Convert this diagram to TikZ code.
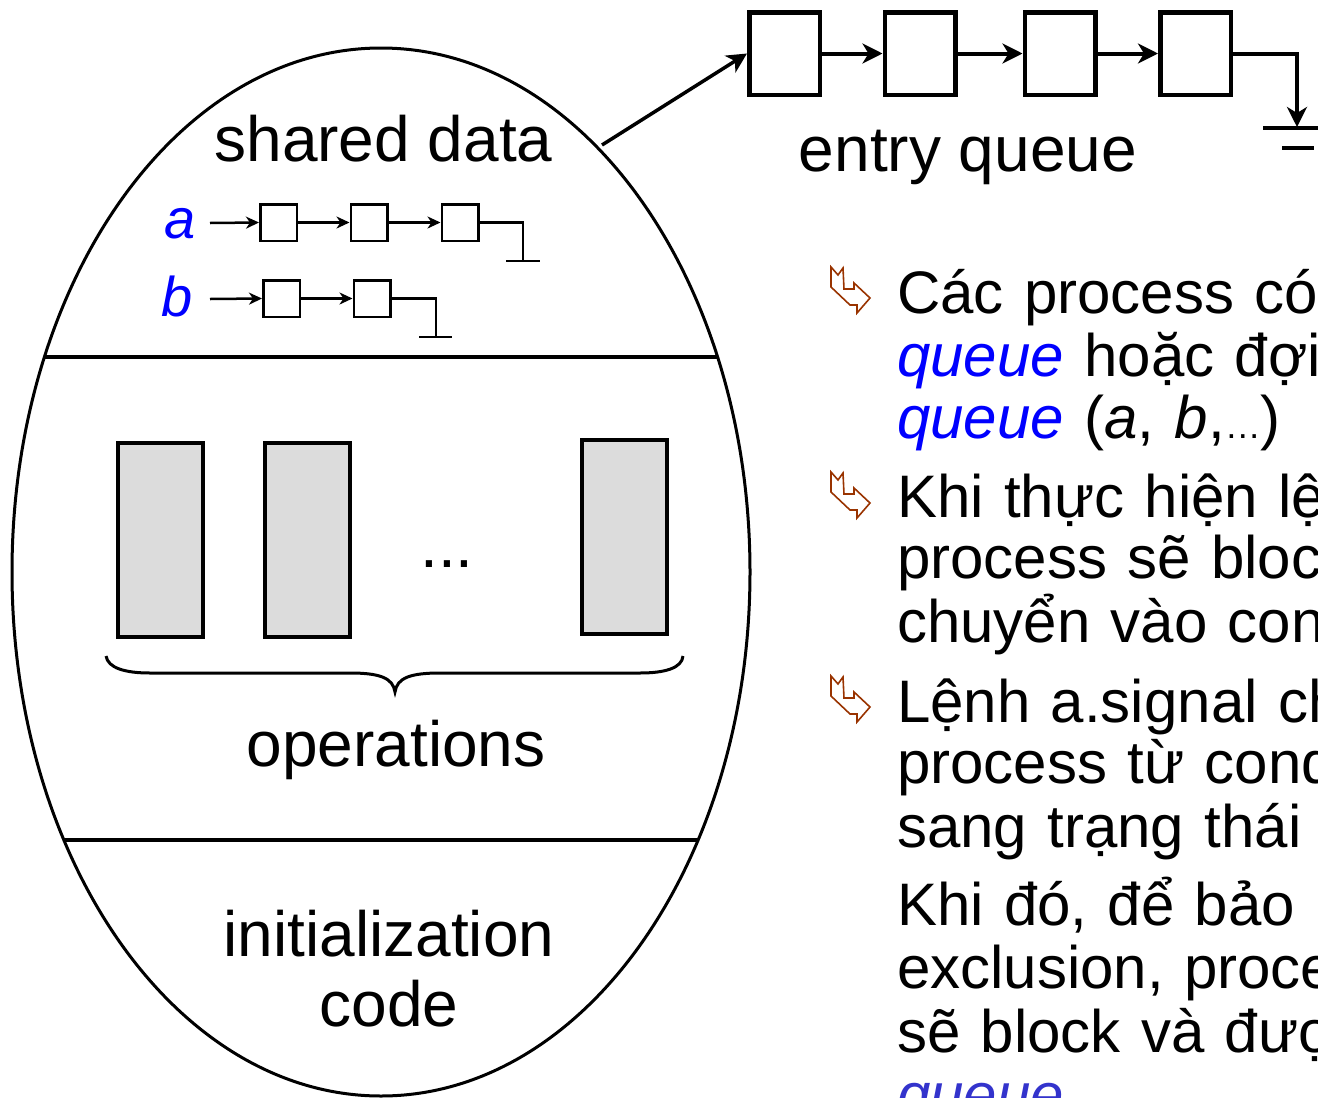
\documentclass[tikz,border=0pt]{standalone}
\usepackage{fontspec}
\setmainfont{Liberation Sans}
\newfontfamily\bodyfont{Liberation Sans}[WordSpace=1.22]
\usetikzlibrary{arrows.meta}
\definecolor{bulletbrown}{HTML}{993300}
\definecolor{fadeblue}{HTML}{3333CC}
\definecolor{opgray}{HTML}{DCDCDC}
\begin{document}
\begin{tikzpicture}[x=1pt,y=-1pt,
  bigtext/.style={font=\fontsize{64}{70}\selectfont, inner sep=0, anchor=base},
  bodytext/.style={font=\bodyfont\fontsize{60}{63}\selectfont, inner sep=0, anchor=base west},
  varlabel/.style={font=\fontsize{56}{60}\selectfont\itshape, text=blue, inner sep=0, anchor=base},
  qbox/.style={draw, line width=4.5pt, minimum width=70.5pt, minimum height=82.5pt, inner sep=0},
  sbox/.style={draw, line width=2.5pt, minimum width=36.5pt, minimum height=36.5pt, inner sep=0},
  opbox/.style={draw, line width=4pt, fill=opgray, minimum width=85pt, minimum height=194pt, inner sep=0},
  qarrow/.style={line width=4pt, -{Stealth[length=20pt,width=20pt,inset=6pt]}},
  sarrow/.style={line width=2.5pt, -{Stealth[length=13pt,width=12pt,inset=4pt]}},
  endline/.style={line width=2.5pt},
  bul/.pic={\draw[bulletbrown, line width=1.6pt, line join=miter]
     (0,0) -- (7,8) -- (12,1) -- (13,22) -- (23,22) -- (23,16) -- (39,31)
     -- (26,46) -- (26,38) -- (19,38) -- (0,20) -- cycle;}
]
\useasboundingbox (0,0) rectangle (1318,1098);

% monitor ellipse and separators
\draw[line width=3pt] (381,572) ellipse [x radius=369pt, y radius=524pt];
\draw[line width=3.5pt] (44.5,357) -- (717.5,357);
\draw[line width=3.5pt] (64,840) -- (698,840);

% shared data
\node[bigtext] (shared) at (383.5,161) {shared data};
\node[varlabel] (la) at (180,238) {a};
\node[varlabel] (lb) at (177,316) {b};

\coordinate (ain) at (210,223);
\node[sbox] (a1) at (278.5,222.5) {};
\node[sbox] (a2) at (369,222.5) {};
\node[sbox] (a3) at (460,222.5) {};
\coordinate (aend) at (523,261);
\draw[sarrow] (ain) -- (a1.west);
\draw[sarrow] (a1.east) -- (a2.west);
\draw[sarrow] (a2.east) -- (a3.west);
\draw[endline] (a3.east) -| (aend);
\draw[endline] (506,261) -- (540,261);

\coordinate (bin) at (210,299);
\node[sbox] (b1) at (281.5,298.5) {};
\node[sbox] (b2) at (372,298.5) {};
\coordinate (bend) at (436,337);
\draw[sarrow] (bin) -- (b1.west);
\draw[sarrow] (b1.east) -- (b2.west);
\draw[endline] (b2.east) -| (bend);
\draw[endline] (419,337) -- (452,337);

% operations
\node[opbox] (op1) at (160.5,540) {};
\node[opbox] (op2) at (307.5,540) {};
\node[opbox] (op3) at (624.5,537) {};
\node[bigtext] (opdots) at (447,567) {...};
\draw[line width=3pt] (106,656) .. controls (108,668) and (125,673) .. (150,673) -- (350,673)
  .. controls (380,673) and (393,678) .. (395,692)
  .. controls (397,678) and (410,673) .. (440,673) -- (640,673)
  .. controls (665,673) and (682,668) .. (683,656);
\node[bigtext] (ops) at (396,766) {operations};

% initialization
\node[bigtext] (init1) at (389,956) {initialization};
\node[bigtext] (init2) at (389,1026) {code};

% entry queue
\node[qbox] (q1) at (784.5,53.5) {};
\node[qbox] (q2) at (920,53.5) {};
\node[qbox] (q3) at (1060,53.5) {};
\node[qbox] (q4) at (1195.5,53.5) {};
\coordinate (sdout) at (602,145);
\coordinate (qend) at (1297,127);
\draw[line width=3.5pt, -{Stealth[length=20pt,width=20pt,inset=6pt]}] (sdout) -- (q1.west);
\draw[qarrow] (q1.east) -- (q2.west);
\draw[qarrow] (q2.east) -- (q3.west);
\draw[qarrow] (q3.east) -- (q4.west);
\draw[qarrow] (q4.east) -| (qend);
\draw[line width=4pt] (1263,128) -- (1320,128);
\draw[line width=4pt] (1282,148) -- (1314,148);
\node[bigtext] (eq) at (968,171) {entry queue};

% bullets
\pic at (831,267) {bul};
\pic at (831,472) {bul};
\pic at (831,676) {bul};

\node[bodytext] (t1) at (897,313) {Các process có};
\node[bodytext] (t2) at (897,376) {\textcolor{blue}{\itshape queue} hoặc đợi};
\node[bodytext] (t3) at (897,438) {\textcolor{blue}{\itshape queue} ({\itshape a}, {\itshape b},{\fontsize{36}{36}\selectfont …})};
\node[bodytext] (t4) at (897,517) {Khi thực hiện lệnh};
\node[bodytext] (t5) at (897,578) {process sẽ block};
\node[bodytext] (t6) at (897,642) {chuyển vào con};
\node[bodytext] (t7) at (897,722) {Lệnh a.signal ch};
\node[bodytext] (t8) at (897,783) {process từ cond};
\node[bodytext] (t9) at (897,847) {sang trạng thái};
\node[bodytext] (t10) at (897,925) {Khi đó, để bảo};
\node[bodytext] (t11) at (897,988) {exclusion, proce};
\node[bodytext] (t12) at (897,1052) {sẽ block và được};
\node[bodytext, text=fadeblue] (t13) at (897,1115) {\itshape queue};
\end{tikzpicture}
\end{document}
